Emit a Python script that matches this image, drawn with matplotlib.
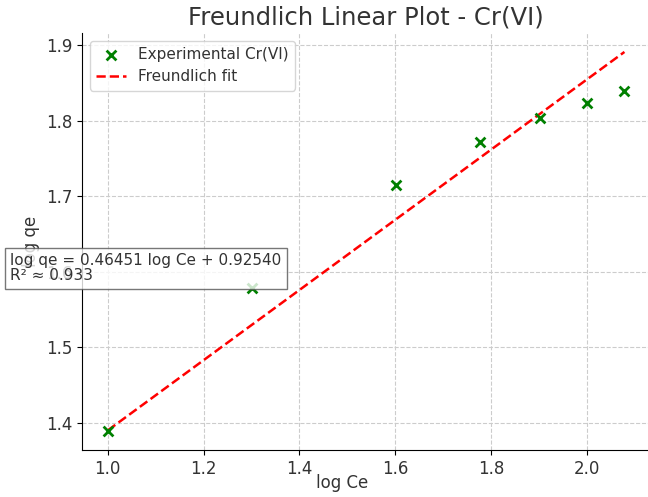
import numpy as np
import matplotlib
matplotlib.use("Agg")
import matplotlib.pyplot as plt

# log Ce / log qe data for Cr(VI)
log_ce = [1.000, 1.301, 1.602, 1.778, 1.903, 2.000, 2.079]
log_qe = [1.389, 1.578, 1.715, 1.772, 1.804, 1.824, 1.839]

slope = 0.46451
intercept = 0.92540
r2 = 0.933

fig = plt.figure(figsize=(6.48, 4.97), dpi=100)
ax = fig.add_axes([0.1265, 0.0946, 0.877, 0.839])

ax.scatter(log_ce, log_qe, color="green", marker="x", s=50, linewidths=2,
           label="Experimental Cr(VI)", zorder=3)
x_fit = np.array([min(log_ce), max(log_ce)])
ax.plot(x_fit, slope * x_fit + intercept, "r--", lw=1.8, label="Freundlich fit")

ax.set_title("Freundlich Linear Plot - Cr(VI)", fontsize=17.5, color="#333333")
ax.set_xlabel("log Ce", fontsize=12, color="#333333")
ax.set_ylabel("log qe", fontsize=12, color="#333333")
ax.xaxis.set_label_coords(0.457, -0.058)
ax.tick_params(labelsize=12, labelcolor="#333333")
ax.set_xticks([1.0, 1.2, 1.4, 1.6, 1.8, 2.0])
ax.set_yticks([1.4, 1.5, 1.6, 1.7, 1.8, 1.9])
ax.grid(True, linestyle="--", color="#cccccc", lw=0.8)
ax.spines["top"].set_visible(False)
ax.spines["right"].set_visible(False)
leg = ax.legend(loc="upper left", fontsize=11)
for t in leg.get_texts():
    t.set_color("#333333")

fig.text(0.016, 0.43, "log qe = %.5f log Ce + %.5f\nR² ≈ %.3f" % (slope, intercept, r2),
         fontsize=11, color="#333333", va="bottom", ha="left", linespacing=1.0,
         bbox=dict(facecolor="white", edgecolor="#555555", alpha=0.8, boxstyle="square,pad=0.35"))

fig.savefig("out.png", dpi=100)
